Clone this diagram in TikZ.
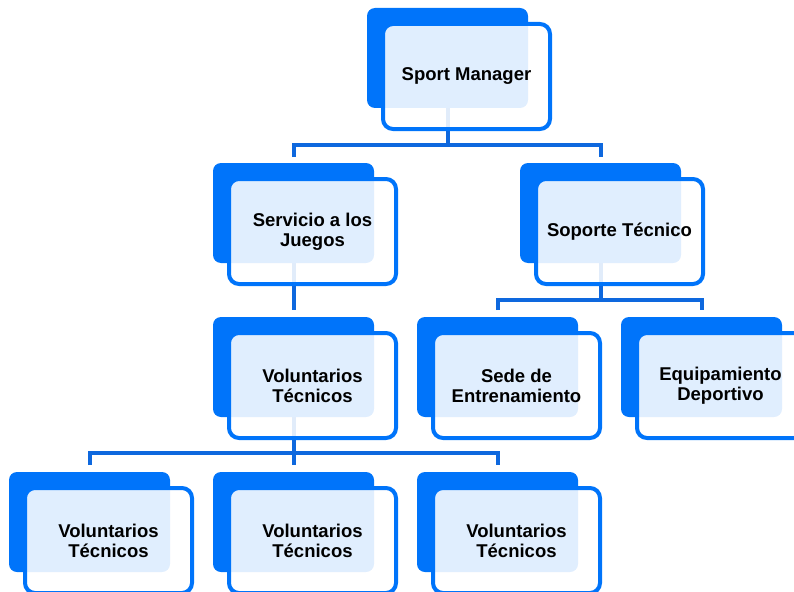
\documentclass[tikz,border=0pt]{standalone}
\usepackage{fontspec}
\setmainfont{Liberation Sans}
\usetikzlibrary{calc}
\definecolor{boxblue}{RGB}{0,116,250}
\definecolor{lineblue}{RGB}{14,104,222}
\tikzset{
  backbox/.style={rectangle, rounded corners=8pt, fill=boxblue, draw=none,
    minimum width=161pt, minimum height=100pt, inner sep=0pt},
  frontbox/.style={rectangle, rounded corners=10pt, draw=boxblue, line width=4pt,
    fill=white, fill opacity=0.88, text opacity=1, draw opacity=1,
    minimum width=167pt, minimum height=105pt, inner sep=0pt, align=center,
    font=\bfseries\fontsize{18.5}{20}\selectfont},
  conn/.style={draw=lineblue, line width=4pt}
}
\newcommand{\orgcard}[4]{%
  \node[backbox] (#1B) at (#2+80.5,#3+50) {};
  \node[frontbox] (#1) at (#2+99.5,#3+68.5) {#4};
}
\begin{document}
\begin{tikzpicture}[x=1pt,y=-1pt]
\useasboundingbox (0,0) rectangle (794,591);
% anchors at the centres of the back boxes, for the connectors
\foreach \n/\x/\y in {sm/367/8, serv/213/163, sop/520/163, vol/213/317, sede/417/317, equip/621/317, ba/9/472, bb/213/472, bc/417/472}
  \coordinate (\n C) at (\x+80.5,\y+50);
\coordinate (j1) at (447.5,145);
\coordinate (j2) at (600.5,300);
\coordinate (j3) at (293.5,453);
% connectors
\draw[conn] (smC) -- (j1);
\draw[conn] ($(servC)+(0,-56)$) |- (j1) -| ($(sopC)+(0,-56)$);
\draw[conn] (servC) -- ($(volC)+(0,-57)$);
\draw[conn] (sopC) -- (j2);
\draw[conn] ($(sedeC)+(0,-57)$) |- (j2) -| ($(equipC)+(0,-57)$);
\draw[conn] (volC) -- (j3);
\draw[conn] ($(baC)+(0,-57)$) |- (j3) -| ($(bcC)+(0,-57)$);
\draw[conn] (j3) -- ($(bbC)+(0,-57)$);
% cards
\orgcard{sm}{367}{8}{Sport Manager}
\orgcard{serv}{213}{163}{Servicio a los\\Juegos}
\orgcard{sop}{520}{163}{Soporte Técnico}
\orgcard{vol}{213}{317}{Voluntarios\\Técnicos}
\orgcard{sede}{417}{317}{Sede de\\Entrenamiento}
\orgcard{equip}{621}{317}{Equipamiento\\Deportivo}
\orgcard{ba}{9}{472}{Voluntarios\\Técnicos}
\orgcard{bb}{213}{472}{Voluntarios\\Técnicos}
\orgcard{bc}{417}{472}{Voluntarios\\Técnicos}
\end{tikzpicture}
\end{document}
